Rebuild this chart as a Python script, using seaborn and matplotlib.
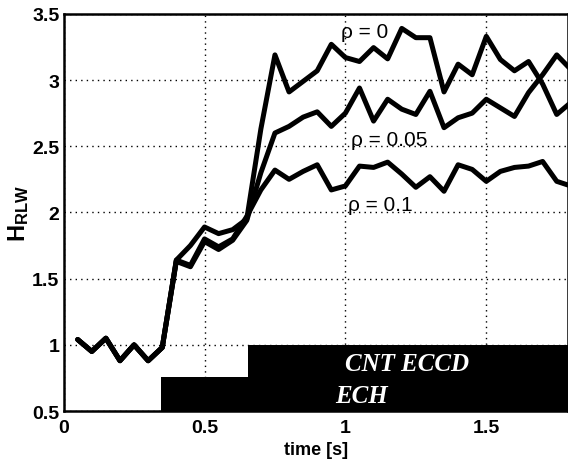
import numpy as np
import pandas as pd
import matplotlib
matplotlib.use("Agg")
import matplotlib.pyplot as plt
import seaborn as sns

# time base [s] and H_RLW for the three rho values
time_s = [0.05, 0.10, 0.15, 0.20, 0.25, 0.30, 0.35, 0.40, 0.45, 0.50,
          0.55, 0.60, 0.65, 0.70, 0.75, 0.80, 0.85, 0.90, 0.95, 1.00,
          1.05, 1.10, 1.15, 1.20, 1.25, 1.30, 1.35, 1.40, 1.45, 1.50,
          1.55, 1.60, 1.65, 1.70, 1.75, 1.80]
h_rho0 = [1.04, 0.95, 1.05, 0.88, 1.00, 0.88, 0.98, 1.64, 1.75, 1.89,
          1.84, 1.87, 1.95, 2.63, 3.19, 2.91, 2.99, 3.07, 3.27, 3.17,
          3.14, 3.245, 3.16, 3.39, 3.32, 3.32, 2.91, 3.12, 3.04, 3.33,
          3.155, 3.07, 3.14, 2.97, 2.74, 2.83]
h_rho005 = [1.04, 0.95, 1.05, 0.88, 1.00, 0.88, 0.98, 1.63, 1.59, 1.78,
            1.72, 1.79, 1.94, 2.30, 2.60, 2.65, 2.72, 2.76, 2.65, 2.75,
            2.94, 2.69, 2.855, 2.78, 2.74, 2.915, 2.64, 2.715, 2.75, 2.855,
            2.79, 2.725, 2.905, 3.04, 3.19, 3.08]
h_rho01 = [1.04, 0.95, 1.05, 0.88, 1.00, 0.88, 0.98, 1.64, 1.60, 1.80,
           1.74, 1.80, 1.97, 2.17, 2.32, 2.25, 2.31, 2.36, 2.17, 2.20,
           2.35, 2.34, 2.38, 2.29, 2.19, 2.27, 2.16, 2.36, 2.325, 2.235,
           2.31, 2.34, 2.35, 2.385, 2.235, 2.20]
rho_labels = ["\u03c1 = 0", "\u03c1 = 0.05", "\u03c1 = 0.1"]

# heating phases: start, end, upper level
phase_names = ["ECH", "CNT ECCD"]
phase_start = [0.345, 0.655]
phase_end = [1.80, 1.80]
phase_top = [0.76, 1.0]

df = pd.DataFrame({
    "time": time_s * 3,
    "H": h_rho0 + h_rho005 + h_rho01,
    "rho": [rho_labels[0]] * len(time_s) + [rho_labels[1]] * len(time_s) + [rho_labels[2]] * len(time_s),
})

sns.set_style("white")
plt.rcParams['font.family'] = ['Liberation Sans', 'DejaVu Sans']
plt.rcParams['mathtext.fontset'] = 'custom'
plt.rcParams['mathtext.bf'] = 'Liberation Sans:bold'
plt.rcParams['mathtext.rm'] = 'Liberation Sans'
plt.rcParams['text.color'] = 'black'
plt.rcParams['axes.labelcolor'] = 'black'
plt.rcParams['xtick.color'] = 'black'
plt.rcParams['ytick.color'] = 'black'

fig = plt.figure(figsize=(5.68, 4.64), dpi=100)
ax = fig.add_axes([0.112, 0.112, 0.888, 0.856])

# black heating boxes
for name, s, e, top in zip(phase_names, phase_start, phase_end, phase_top):
    ax.bar(x=s, height=top - 0.5, width=e - s, bottom=0.5, align='edge',
           color='black', linewidth=0, zorder=1)

sns.lineplot(data=df, x="time", y="H", hue="rho", palette=["black"] * 3,
             linewidth=3.6, legend=False, ax=ax, zorder=3)

ax.set_xlim(0, 1.79)
ax.set_ylim(0.5, 3.5)
ax.set_xticks([0, 0.5, 1, 1.5])
ax.set_xticklabels(["0", "0.5", "1", "1.5"])
ax.set_yticks([0.5, 1, 1.5, 2, 2.5, 3, 3.5])
ax.set_yticklabels(["0.5", "1", "1.5", "2", "2.5", "3", "3.5"])
ax.grid(True, color='black', linestyle=(0, (1, 3)), linewidth=1.0)
ax.set_axisbelow(True)
ax.tick_params(direction='in', length=4, width=1.2, labelsize=14)
ax.tick_params(axis='x', pad=6)
ax.tick_params(axis='y', pad=3)
for lab in ax.get_xticklabels() + ax.get_yticklabels():
    lab.set_fontweight('bold')
for sp in ax.spines.values():
    sp.set_color('black')
    sp.set_linewidth(1.8)

ax.set_xlabel("time [s]", fontsize=13, fontweight='bold', labelpad=3)
ax.set_ylabel(r"$\mathbf{H_{RLW}}$", fontsize=17, labelpad=1)

# rho annotations
ax.text(0.985, 3.37, rho_labels[0], fontsize=15, va='center', ha='left', zorder=4)
ax.text(1.02, 2.55, rho_labels[1], fontsize=15, va='center', ha='left', zorder=4)
ax.text(1.01, 2.06, rho_labels[2], fontsize=15, va='center', ha='left', zorder=4)

# heating labels
ax.text(1.22, 0.86, "CNT ECCD", family=['Liberation Serif'], fontsize=18,
        fontweight='bold', style='italic', color='white', ha='center', va='center', zorder=4)
ax.text(0.965, 0.62, "ECH", family=['Liberation Serif'], fontsize=18,
        fontweight='bold', style='italic', color='white', ha='left', va='center', zorder=4)

fig.savefig("out.png", dpi=100)
